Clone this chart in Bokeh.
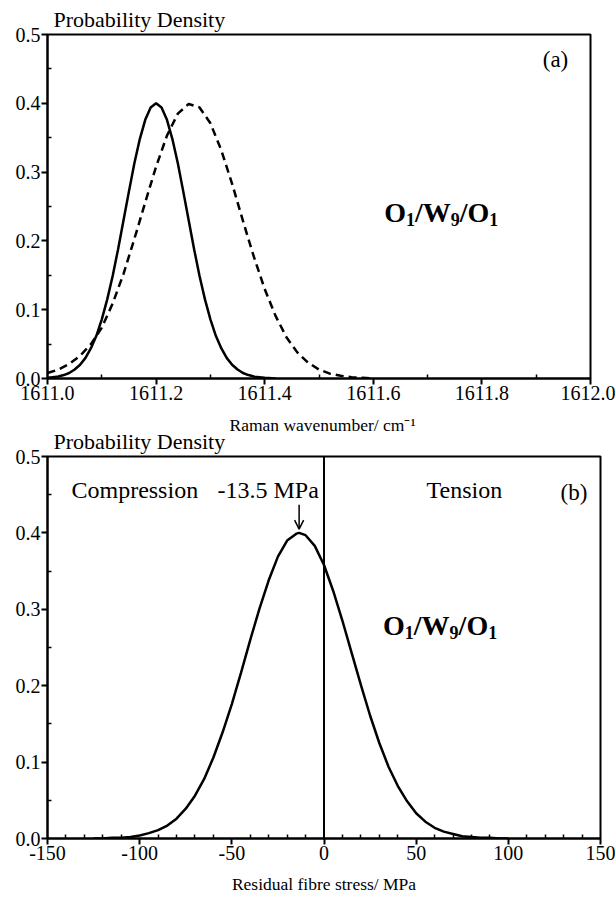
from bokeh.plotting import figure
from bokeh.models import Range1d, FixedTicker, PrintfTickFormatter, Label, Span, Arrow, OpenHead, Title
from bokeh.layouts import column
from bokeh.embed import file_html
from bokeh.resources import INLINE

FONT = "Liberation Serif"

# ---------------- data ----------------
# panel (a): Raman wavenumber distributions
solid_x = [1611.00, 1611.01, 1611.02, 1611.03, 1611.04, 1611.05, 1611.06, 1611.07, 1611.08, 1611.09,
           1611.10, 1611.11, 1611.12, 1611.13, 1611.14, 1611.15, 1611.16, 1611.17, 1611.18, 1611.19,
           1611.20, 1611.21, 1611.22, 1611.23, 1611.24, 1611.25, 1611.26, 1611.27, 1611.28, 1611.29,
           1611.30, 1611.31, 1611.32, 1611.33, 1611.34, 1611.35, 1611.36, 1611.37, 1611.38, 1611.39,
           1611.40, 1611.42]
solid_y = [0.001, 0.002, 0.003, 0.005, 0.008, 0.013, 0.020, 0.030, 0.044, 0.062,
           0.086, 0.115, 0.149, 0.188, 0.230, 0.272, 0.313, 0.348, 0.376, 0.394,
           0.400, 0.394, 0.376, 0.348, 0.313, 0.272, 0.230, 0.188, 0.149, 0.115,
           0.086, 0.062, 0.044, 0.030, 0.020, 0.013, 0.008, 0.005, 0.003, 0.002,
           0.001, 0.000]

dashed_x = [1611.00, 1611.02, 1611.04, 1611.06, 1611.08, 1611.10, 1611.12, 1611.14, 1611.16, 1611.18,
            1611.20, 1611.22, 1611.24, 1611.26, 1611.28, 1611.30, 1611.32, 1611.34, 1611.36, 1611.38,
            1611.40, 1611.42, 1611.44, 1611.46, 1611.48, 1611.50, 1611.52, 1611.54, 1611.56, 1611.58,
            1611.60]
dashed_y = [0.008, 0.013, 0.021, 0.033, 0.050, 0.074, 0.109, 0.152, 0.203, 0.256,
            0.308, 0.353, 0.385, 0.399, 0.394, 0.371, 0.332, 0.283, 0.229, 0.177,
            0.130, 0.091, 0.060, 0.038, 0.023, 0.013, 0.007, 0.004, 0.002, 0.001,
            0.000]

# panel (b): residual fibre stress distribution
stress_x = [-125, -120, -115, -110, -105, -100, -95, -90, -85, -80, -75, -70, -65, -60, -55, -50,
            -45, -40, -35, -30, -25, -20, -15, -13.5, -10, -5, 0, 5, 10, 15, 20, 25, 30, 35, 40,
            45, 50, 55, 60, 65, 70, 75, 80, 85, 90, 95, 100]
stress_y = [0.000, 0.000, 0.001, 0.001, 0.002, 0.004, 0.007, 0.011, 0.017, 0.026, 0.039, 0.056,
            0.078, 0.106, 0.139, 0.176, 0.217, 0.260, 0.301, 0.338, 0.369, 0.390, 0.399, 0.400,
            0.397, 0.383, 0.358, 0.324, 0.285, 0.243, 0.201, 0.161, 0.125, 0.094, 0.069, 0.049,
            0.033, 0.022, 0.014, 0.009, 0.006, 0.003, 0.002, 0.001, 0.001, 0.000, 0.000]
peak_stress = -13.5

# ticks
y_ticks = [0.0, 0.1, 0.2, 0.3, 0.4, 0.5]
y_minor = [0.05, 0.15, 0.25, 0.35, 0.45]
xa_ticks = [1611.0, 1611.2, 1611.4, 1611.6, 1611.8, 1612.0]
xa_minor = [1611.1, 1611.3, 1611.5, 1611.7, 1611.9]
xb_ticks = [-150, -100, -50, 0, 50, 100, 150]
xb_minor = [v for v in range(-140, 150, 10) if v % 50 != 0]


def style(p, xt, xm, xfmt):
    p.outline_line_color = "black"
    p.outline_line_width = 2
    p.outline_line_alpha = 1
    p.xgrid.visible = False
    p.ygrid.visible = False
    p.background_fill_color = "white"
    p.border_fill_color = "white"
    p.xaxis[0].ticker = FixedTicker(ticks=xt, minor_ticks=xm)
    p.yaxis[0].ticker = FixedTicker(ticks=y_ticks, minor_ticks=y_minor)
    p.yaxis[0].formatter = PrintfTickFormatter(format="%.1f")
    p.xaxis[0].formatter = PrintfTickFormatter(format=xfmt)
    for ax in (p.xaxis[0], p.yaxis[0]):
        ax.axis_line_width = 2
        ax.axis_line_color = "black"
        ax.major_tick_line_width = 2
        ax.minor_tick_line_width = 1.5
        ax.major_tick_line_color = "black"
        ax.minor_tick_line_color = "black"
        ax.major_tick_out = 6
        ax.major_tick_in = 0
        ax.minor_tick_out = 0
        ax.minor_tick_in = 4
        ax.major_label_text_font = FONT
        ax.major_label_text_font_size = "20px"
        ax.major_label_text_color = "black"
        ax.major_label_standoff = 1
        ax.axis_label_text_font = FONT
        ax.axis_label_text_font_style = "normal"
        ax.axis_label_text_font_size = "17.5px"
        ax.axis_label_text_color = "black"
        ax.axis_label_standoff = 11


def title_style(t, size="22px"):
    t.align = "left"
    t.text_font = FONT
    t.text_font_size = size
    t.text_font_style = "normal"
    t.text_color = "black"


def lab(p, x, y, text, size, bold=False, xo=0, yo=0):
    p.add_layout(Label(x=x, y=y, text=text, x_offset=xo, y_offset=yo,
                       text_font=FONT, text_font_size=size,
                       text_font_style="bold" if bold else "normal",
                       text_color="black", text_baseline="alphabetic", text_align="left"))


def sample_label(p, x, y):
    # O1/W9/O1 with subscripts
    big, small = "28px", "18px"
    pieces = [("O", 0, big, 0), ("1", 21.8, small, -7), ("/", 30.8, big, 0), ("W", 38.6, big, 0),
              ("9", 66.6, small, -7), ("/", 75.6, big, 0), ("O", 83.4, big, 0), ("1", 105.2, small, -7)]
    for t, dx, sz, dy in pieces:
        lab(p, x, y, t, sz, bold=True, xo=dx, yo=dy)


# ---------------- panel (a) ----------------
pa = figure(frame_width=543, frame_height=344, min_border_left=46, min_border_right=26,
            min_border_top=34, min_border_bottom=36, output_backend="svg", toolbar_location=None,
            x_range=Range1d(1611.0, 1612.0), y_range=Range1d(0, 0.5))
style(pa, xa_ticks, xa_minor, "%.1f")
pa.title.text = "Probability Density"
pa.title.standoff = 6
pa.title.offset = 6
title_style(pa.title)
pa.line(dashed_x, dashed_y, line_color="black", line_width=2.5, line_dash="8 5")
pa.line(solid_x, solid_y, line_color="black", line_width=2.5)
lab(pa, 1611.912, 0.463, "(a)", "23px")
sample_label(pa, 1611.62, 0.241)

# ---------------- panel (b) ----------------
pb = figure(frame_width=553, frame_height=382, min_border_left=47, min_border_right=15,
            min_border_top=42, min_border_bottom=58, output_backend="svg", toolbar_location=None,
            x_range=Range1d(-150, 150), y_range=Range1d(0, 0.5))
style(pb, xb_ticks, xb_minor, "%d")
# axis title of panel (a): drawn in the strip between the two panels (outermost title of b)
pb.title.text = "Raman wavenumber/ cm\u207b\u00b9"
pb.title.vertical_align = "bottom"
pb.title.standoff = -20
pb.title.offset = 182
title_style(pb.title, "17.5px")
# heading of panel (b), next to its frame
tb = Title(text="Probability Density", vertical_align="bottom", standoff=5, offset=6)
title_style(tb)
pb.add_layout(tb, "above")
pb.xaxis[0].axis_label = "Residual fibre stress/ MPa"
pb.line(stress_x, stress_y, line_color="black", line_width=2.5)
pb.add_layout(Span(location=0, dimension="height", line_color="black", line_width=2))
pb.add_layout(Arrow(end=OpenHead(size=9, line_width=1.5, line_color="black"),
                    x_start=peak_stress, y_start=0.437, x_end=peak_stress, y_end=0.405,
                    line_width=1.5, line_color="black"))
lab(pb, -137.0, 0.456, "Compression", "24px")
lab(pb, -57.8, 0.456, "-13.5 MPa", "24px")
lab(pb, 55.6, 0.456, "Tension", "24px")
lab(pb, 128.3, 0.4525, "(b)", "23px")
sample_label(pb, 32.0, 0.279)

layout = column(pa, pb)
open("out.html", "w").write(file_html(layout, INLINE))
